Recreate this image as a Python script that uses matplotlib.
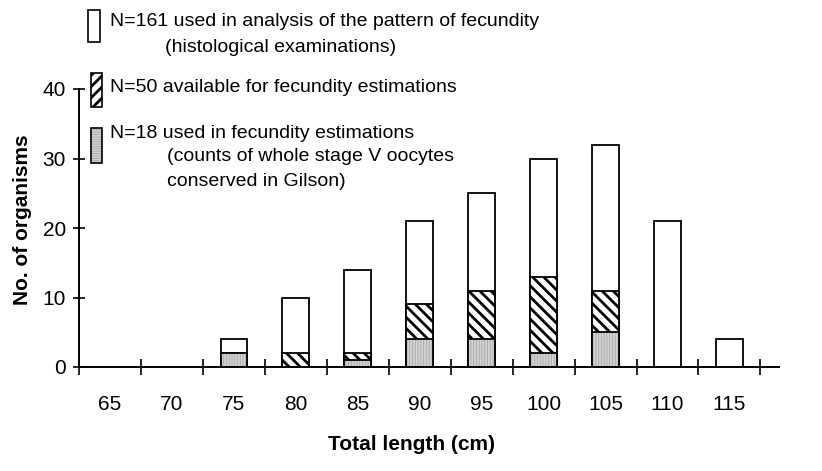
import matplotlib
matplotlib.use("Agg")
import matplotlib.pyplot as plt
from matplotlib.patches import Rectangle

# ==========================================
# data
# ==========================================
lengths = [65, 70, 75, 80, 85, 90, 95, 100, 105, 110, 115]
n_histo = [0, 0, 4, 10, 14, 21, 25, 30, 32, 21, 4]      # N=161
n_available = [0, 0, 2, 2, 2, 9, 11, 13, 11, 0, 0]      # N=50
n_used = [0, 0, 2, 0, 1, 4, 4, 2, 5, 0, 0]              # N=18
y_ticks = [0, 10, 20, 30, 40]

legend_lines = [
    "N=161 used in analysis of the pattern of fecundity",
    "(histological examinations)",
    "N=50 available for fecundity estimations",
    "N=18 used in fecundity estimations",
    "(counts of whole stage V oocytes",
    "conserved in Gilson)",
]

plt.rcParams['font.family'] = ['Liberation Sans Narrow', 'Liberation Sans', 'DejaVu Sans']
plt.rcParams['hatch.linewidth'] = 2.0

W, H = 822, 471
FS = 14
STIPPLE_FACE = '#d2d2d2'
STIPPLE_HATCH = '#a8a8a8'


def thin_hatch(patches, lw=0.6):
    # finer hatch for the stippled fill, if this matplotlib allows it per artist
    for p in patches:
        if hasattr(p, 'set_hatch_linewidth'):
            p.set_hatch_linewidth(lw)


fig = plt.figure(figsize=(W / 100, H / 100), dpi=100)
ax = fig.add_axes([79 / W, 1 - 367 / H, 700 / W, 278 / H])

x = list(range(len(lengths)))
bw = 0.43

# white bars = all fish, hatched = available, stippled = used
ax.bar(x, n_histo, width=bw, color='white', edgecolor='black', linewidth=1.3, zorder=2)
ax.bar(x, n_available, width=bw, color='white', edgecolor='black', linewidth=1.3,
       hatch='\\\\\\', zorder=3)
st = ax.bar(x, n_used, width=bw, color=STIPPLE_FACE, edgecolor=STIPPLE_HATCH, linewidth=0,
            hatch='||||||', zorder=4)
thin_hatch(st)
ax.bar(x, n_used, width=bw, fill=False, edgecolor='black', linewidth=1.3, zorder=5)

ax.set_xlim(-0.5, 10.8)
ax.set_ylim(0, 40)

for side in ['top', 'right']:
    ax.spines[side].set_visible(False)
for side in ['left', 'bottom']:
    ax.spines[side].set_linewidth(1.4)
    ax.spines[side].set_zorder(6)

ax.set_yticks(y_ticks)
ax.tick_params(axis='y', direction='inout', length=9, width=1.2, pad=5, labelsize=FS + 1)

# tick marks between classes, labels at the class centres
ax.set_xticks([i - 0.5 for i in range(len(lengths) + 1)])
ax.set_xticklabels([])
ax.set_xticks(x, minor=True)
ax.set_xticklabels([str(v) for v in lengths], minor=True)
ax.tick_params(axis='x', which='major', direction='inout', length=12, width=1.2)
ax.tick_params(axis='x', which='minor', length=0, pad=20, labelsize=FS + 1)

fig.text(411 / W, 1 - 445 / H, "Total length (cm)", ha='center', va='center',
         fontsize=FS + 1, fontweight='bold')
fig.text(23 / W, 1 - 220 / H, "No. of organisms", ha='center', va='center',
         rotation=90, fontsize=FS + 1, fontweight='bold')

# ==========================================
# hand made legend
# ==========================================
def icon(x0, y0, x1, y1, **kw):
    r = Rectangle((x0 / W, 1 - y1 / H), (x1 - x0) / W, (y1 - y0) / H,
                  transform=fig.transFigure, **kw)
    fig.patches.append(r)
    return r

icon(88, 10, 100, 42, facecolor='white', edgecolor='black', linewidth=1.2)
icon(91, 73, 102, 107, facecolor='white', edgecolor='black', linewidth=1.2, hatch='///')
s = icon(91, 128, 102, 163, facecolor=STIPPLE_FACE, edgecolor=STIPPLE_HATCH, linewidth=0,
         hatch='-------')
thin_hatch([s])
icon(91, 128, 102, 163, fill=False, edgecolor='black', linewidth=1.2)

text_pos = [(110, 22), (165, 47), (110, 88), (110, 134), (167, 157), (167, 181)]
for (tx, ty), line in zip(text_pos, legend_lines):
    fig.text(tx / W, 1 - ty / H, line, ha='left', va='center', fontsize=FS)

fig.savefig('out.png', dpi=100)
